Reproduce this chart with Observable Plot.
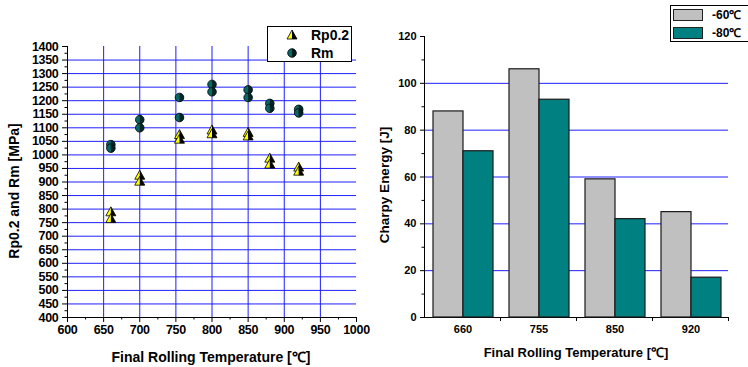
<!DOCTYPE html>
<html>
<head>
<meta charset="utf-8">
<script src="https://cdn.jsdelivr.net/npm/d3@7"></script>
<script src="https://cdn.jsdelivr.net/npm/@observablehq/plot@0.6"></script>
<style>
  html, body { margin: 0; padding: 0; background: #fff; }
  #wrap { position: relative; width: 748px; height: 367px; overflow: hidden; font-family: "Liberation Sans", Arial, sans-serif; font-weight: bold; color: #000; }
  .layer { position: absolute; top: 0; }
  .layer svg { display: block; max-width: none; }
  .layer svg text { font-weight: bold; }
  .t { position: absolute; white-space: nowrap; line-height: 1; }
  .box { position: absolute; border: 1px solid #000; background: #fff; box-sizing: border-box; }
</style>
</head>
<body>
<div id="wrap"></div>
<script>
// ---------- data ----------
const strengthTemps = [660, 660, 700, 700, 755, 755, 800, 800, 850, 850, 880, 880, 920, 920];
const rpValues = [790, 765, 925, 903, 1075, 1058, 1092, 1078, 1083, 1070, 988, 966, 955, 940];
const rmValues = [1038, 1025, 1130, 1100, 1212, 1138, 1260, 1233, 1240, 1212, 1190, 1172, 1168, 1155];
const strengthSeries = ["Rp0.2", "Rm"];

const charpyTemps = ["660", "755", "850", "920"];
const charpySeries = ["-60\u2103", "-80\u2103"];
const charpyM60 = [88, 106, 59, 45];
const charpyM80 = [71, 93, 42, 17];

const leftXTicks = d3.range(600, 1001, 50);
const leftYTicks = d3.range(400, 1401, 50);
const rightYTicks = d3.range(0, 121, 20);

// ---------- derived tables ----------
const rp = strengthTemps.map((t, i) => ({temp: t, value: rpValues[i]}));
const rm = strengthTemps.map((t, i) => ({temp: t, value: rmValues[i]}));
const charpy = [];
charpyTemps.forEach((t, i) => {
  charpy.push({temp: t, series: charpySeries[0], value: charpyM60[i]});
  charpy.push({temp: t, series: charpySeries[1], value: charpyM80[i]});
});

// ---------- symbols ----------
const triFull = {draw(c, size) { const r = Math.sqrt(size / Math.PI); c.moveTo(0, -r); c.lineTo(r, 0.8 * r); c.lineTo(-r, 0.8 * r); c.closePath(); }};
const triHalf = {draw(c, size) { const r = Math.sqrt(size / Math.PI); c.moveTo(0, -r); c.lineTo(r, 0.8 * r); c.lineTo(0, 0.8 * r); c.closePath(); }};
const cirFull = {draw(c, size) { const r = Math.sqrt(size / Math.PI); c.moveTo(r, 0); c.arc(0, 0, r, 0, 2 * Math.PI); c.closePath(); }};
const cirHalf = {draw(c, size) { const r = Math.sqrt(size / Math.PI); c.moveTo(0, -r); c.arc(0, 0, r, -Math.PI / 2, Math.PI / 2); c.closePath(); }};

const BLUE = "#1f1fff";
const FONT = "Liberation Sans, Arial, sans-serif";
const fmt = d3.format("d");
const wrap = document.getElementById("wrap");

// ---------- left chart ----------
const left = Plot.plot({
  width: 380, height: 367,
  marginLeft: 67, marginRight: 24, marginTop: 46, marginBottom: 50,
  x: {domain: [600, 1000]},
  y: {domain: [400, 1400]},
  style: {fontFamily: FONT, fontWeight: "bold", fontSize: "12.5px", color: "#000", background: "transparent", letterSpacing: "-0.3px"},
  marks: [
    Plot.gridY(leftYTicks.slice(1, -1), {stroke: BLUE, strokeOpacity: 1}),
    Plot.gridX(leftXTicks.slice(1, -1), {stroke: BLUE, strokeOpacity: 1}),
    Plot.axisY(leftYTicks, {tickSize: 5, tickPadding: 4, label: null, tickFormat: fmt}),
    Plot.axisY(d3.range(425, 1400, 50), {tickSize: 2.5, tickFormat: () => "", label: null}),
    Plot.axisX(leftXTicks, {tickSize: 5, tickPadding: 3, label: null, tickFormat: fmt}),
    Plot.axisX(d3.range(625, 1000, 50), {tickSize: 2.5, tickFormat: () => "", label: null}),
    Plot.ruleX([600], {stroke: "#000"}),
    Plot.ruleY([400], {stroke: "#000"}),
    Plot.dot(rp, {x: "temp", y: "value", symbol: triFull, r: 5, fill: "#ffff00", stroke: "#000", strokeWidth: 0.8}),
    Plot.dot(rp, {x: "temp", y: "value", symbol: triHalf, r: 5, fill: "#000", stroke: "none"}),
    Plot.dot(rm, {x: "temp", y: "value", symbol: cirFull, r: 4.3, fill: "#086868", stroke: "#000", strokeWidth: 0.8}),
    Plot.dot(rm, {x: "temp", y: "value", symbol: cirHalf, r: 4.3, fill: "#061a1a", stroke: "none", fillOpacity: 0.85})
  ]
});
const leftLayer = document.createElement("div");
leftLayer.className = "layer";
leftLayer.style.left = "0px";
leftLayer.style.width = "380px";
leftLayer.appendChild(left);
wrap.appendChild(leftLayer);

// ---------- right chart: grid/axes layer ----------
const rightGrid = Plot.plot({
  width: 368, height: 367,
  marginLeft: 44, marginRight: 20, marginTop: 36, marginBottom: 50,
  x: {domain: [0, charpyTemps.length]},
  y: {domain: [0, 120]},
  style: {fontFamily: FONT, fontWeight: "bold", fontSize: "11px", color: "#000", background: "transparent"},
  marks: [
    Plot.gridY(rightYTicks.slice(1, -1), {stroke: BLUE, strokeOpacity: 1}),
    Plot.axisY(rightYTicks, {tickSize: 4, tickPadding: 4, label: null, tickFormat: fmt}),
    Plot.axisY(d3.range(10, 120, 20), {tickSize: 2.5, tickFormat: () => "", label: null}),
    Plot.axisX(d3.range(1, charpyTemps.length + 1), {tickSize: 4, tickFormat: () => "", label: null}),
    Plot.ruleX([0], {stroke: "#000"}),
    Plot.ruleY([0], {stroke: "#000"})
  ]
});
const rgLayer = document.createElement("div");
rgLayer.className = "layer";
rgLayer.style.left = "380px";
rgLayer.style.width = "368px";
rgLayer.appendChild(rightGrid);
wrap.appendChild(rgLayer);

// ---------- right chart: bars layer ----------
const rightBars = Plot.plot({
  width: 368, height: 367,
  marginLeft: 44, marginRight: 20, marginTop: 36, marginBottom: 50,
  y: {domain: [0, 120], axis: null},
  fx: {domain: charpyTemps, paddingInner: 0.2, paddingOuter: 0.1, label: null},
  x: {domain: charpySeries, padding: 0, axis: null},
  color: {domain: charpySeries, range: ["#c0c0c0", "#008080"]},
  style: {fontFamily: FONT, fontWeight: "bold", fontSize: "11px", color: "#000", background: "transparent"},
  marks: [
    Plot.barY(charpy, {fx: "temp", x: "series", y: "value", fill: "series", stroke: "#1a1a1a", strokeWidth: 1.2}),
    Plot.axisFx({anchor: "bottom", tickSize: 0, tickPadding: 8, label: null})
  ]
});
const rbLayer = document.createElement("div");
rbLayer.className = "layer";
rbLayer.style.left = "380px";
rbLayer.style.width = "368px";
rbLayer.appendChild(rightBars);
wrap.appendChild(rbLayer);

// ---------- axis titles ----------
function addText(txt, cx, cy, size, rotate) {
  const d = document.createElement("div");
  d.className = "t";
  d.textContent = txt;
  d.style.left = cx + "px";
  d.style.top = cy + "px";
  d.style.fontSize = size + "px";
  d.style.transform = "translate(-50%,-50%)" + (rotate ? " rotate(-90deg)" : "");
  wrap.appendChild(d);
  return d;
}
addText("Final Rolling Temperature [\u2103]", 211, 357, 14, false);
addText("Rp0.2 and Rm [MPa]", 14, 191, 14, true);
addText("Final Rolling Temperature [\u2103]", 576, 352, 13, false);
addText("Charpy Energy [J]", 385, 185, 13.5, true);

// ---------- left legend ----------
const lb = document.createElement("div");
lb.className = "box";
Object.assign(lb.style, {left: "267px", top: "26px", width: "85px", height: "36px"});
wrap.appendChild(lb);
const legendSvgNS = "http://www.w3.org/2000/svg";
function legendIcon(cx, cy, full, half, fillColor, halfColor, r) {
  const s = document.createElementNS(legendSvgNS, "svg");
  s.setAttribute("width", 14); s.setAttribute("height", 14);
  s.style.position = "absolute";
  s.style.left = (cx - 7) + "px"; s.style.top = (cy - 7) + "px";
  const p1 = document.createElementNS(legendSvgNS, "path");
  p1.setAttribute("d", d3.symbol(full, r * r * Math.PI)());
  p1.setAttribute("transform", "translate(7,7)");
  p1.setAttribute("fill", fillColor); p1.setAttribute("stroke", "#000"); p1.setAttribute("stroke-width", 0.8);
  const p2 = document.createElementNS(legendSvgNS, "path");
  p2.setAttribute("d", d3.symbol(half, r * r * Math.PI)());
  p2.setAttribute("transform", "translate(7,7)");
  p2.setAttribute("fill", halfColor);
  s.appendChild(p1); s.appendChild(p2);
  wrap.appendChild(s);
}
legendIcon(292, 35, triFull, triHalf, "#ffff00", "#000", 5);
legendIcon(292, 53, cirFull, cirHalf, "#086868", "#061a1a", 4.3);
const t1 = addText(strengthSeries[0], 311, 35, 14, false); t1.style.transform = "translate(0,-50%)";
const t2 = addText(strengthSeries[1], 311, 53, 14, false); t2.style.transform = "translate(0,-50%)";

// ---------- right legend ----------
const rb = document.createElement("div");
rb.className = "box";
Object.assign(rb.style, {left: "670px", top: "5px", width: "90px", height: "37px"});
wrap.appendChild(rb);
const swColors = ["#c0c0c0", "#008080"];
charpySeries.forEach((s, i) => {
  const sw = document.createElement("div");
  Object.assign(sw.style, {position: "absolute", left: "673px", top: (9 + i * 18) + "px", width: "30px", height: "12px",
    background: swColors[i], border: "1px solid #222", boxSizing: "border-box"});
  wrap.appendChild(sw);
  const t = addText(s, 712, 15 + i * 18, 12, false);
  t.style.transform = "translate(0,-50%)";
});
</script>
</body>
</html>
